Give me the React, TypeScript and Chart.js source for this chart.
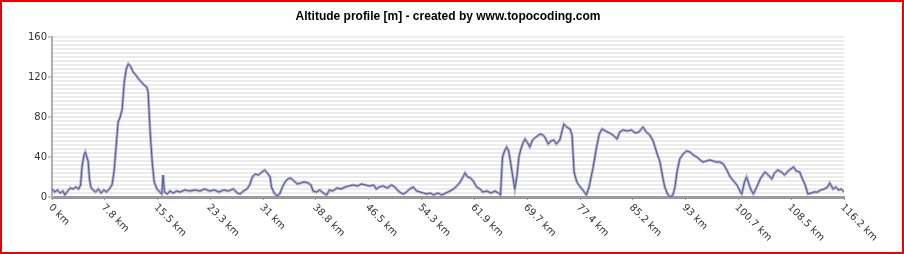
import React, { useEffect, useRef } from "react";
import { Chart, registerables } from "chart.js";

Chart.register(...registerables);

const distKm: number[] = [
  0.0, 0.4, 0.8, 1.2, 1.6, 1.9, 2.3, 2.7, 3.1, 3.5, 3.9, 4.2, 4.4, 4.7, 4.9, 5.1, 5.3, 5.5, 5.7, 6.0,
  6.4, 6.8, 7.2, 7.6, 8.0, 8.4, 8.8, 9.1, 9.4, 9.7, 10.0, 10.3, 10.6, 10.9, 11.2, 11.5, 11.9, 12.3, 12.7, 13.1,
  13.5, 13.9, 14.1, 14.4, 14.7, 15.0, 15.4, 15.8, 16.1, 16.3, 16.5, 16.9, 17.3, 17.8, 18.3, 18.8, 19.5, 20.2, 21.0, 21.7,
  22.4, 23.1, 23.8, 24.5, 25.2, 25.9, 26.6, 27.2, 27.6, 28.1, 28.6, 29.0, 29.4, 29.8, 30.3, 30.8, 31.2, 31.6, 32.0, 32.2,
  32.6, 33.0, 33.4, 33.8, 34.2, 34.6, 35.0, 35.5, 36.0, 36.5, 37.0, 37.6, 38.0, 38.3, 38.8, 39.3, 39.8, 40.3, 40.7, 41.2,
  41.8, 42.4, 43.0, 43.6, 44.2, 44.8, 45.4, 46.0, 46.6, 47.2, 47.6, 48.0, 48.6, 49.2, 49.8, 50.3, 50.8, 51.2, 51.6, 52.0,
  52.5, 53.0, 53.5, 54.0, 54.5, 55.0, 55.5, 56.0, 56.6, 57.2, 57.8, 58.4, 58.9, 59.4, 59.9, 60.3, 60.6, 61.0, 61.4, 61.8,
  62.3, 62.8, 63.2, 63.8, 64.4, 65.0, 65.5, 65.8, 66.1, 66.4, 66.7, 67.0, 67.2, 67.5, 67.9, 68.2, 68.5, 68.8, 69.1, 69.4,
  69.8, 70.1, 70.5, 71.0, 71.6, 72.0, 72.3, 72.8, 73.2, 73.6, 74.0, 74.5, 74.8, 75.1, 75.5, 76.0, 76.3, 76.6, 77.0, 77.5,
  78.0, 78.4, 78.8, 79.4, 79.9, 80.3, 80.7, 81.2, 81.8, 82.3, 82.9, 83.3, 83.8, 84.4, 85.0, 85.6, 86.1, 86.7, 87.2, 87.7,
  88.2, 88.7, 89.2, 89.6, 89.9, 90.3, 90.7, 91.1, 91.4, 91.7, 92.1, 92.6, 93.1, 93.6, 94.1, 94.6, 95.1, 95.5, 96.0, 96.5,
  97.0, 97.5, 98.0, 98.5, 99.0, 99.5, 100.0, 100.5, 101.0, 101.2, 101.6, 101.9, 102.2, 102.5, 102.9, 103.4, 103.9, 104.3, 104.6, 105.1,
  105.6, 106.0, 106.5, 107.0, 107.5, 108.0, 108.4, 108.8, 109.2, 109.7, 110.1, 110.5, 110.9, 111.4, 111.8, 112.3, 112.8, 113.3, 113.8, 114.1,
  114.6, 115.0, 115.4, 115.8, 116.2,
];

const altitudeM: number[] = [
  8, 5, 7, 4, 6, 2, 6, 9, 8, 10, 8, 12, 30, 42, 45, 40, 36, 18, 10, 7,
  5, 8, 4, 7, 5, 8, 12, 25, 50, 75, 80, 88, 115, 128, 133, 131, 125, 122, 118, 115,
  112, 110, 105, 65, 35, 15, 8, 5, 3, 22, 5, 3, 6, 4, 6, 5, 7, 6, 7, 6,
  8, 6, 7, 5, 7, 6, 8, 4, 3, 6, 8, 12, 20, 23, 22, 25, 27, 24, 20, 10,
  4, 1, 3, 10, 15, 18, 19, 16, 13, 14, 15, 14, 12, 6, 5, 7, 4, 2, 7, 6,
  9, 8, 10, 11, 12, 11, 13, 12, 11, 12, 8, 10, 11, 9, 12, 10, 6, 4, 3, 5,
  8, 10, 6, 5, 4, 3, 4, 2, 4, 2, 4, 6, 8, 11, 15, 20, 24, 20, 19, 16,
  10, 8, 5, 6, 4, 6, 4, 2, 40, 46, 50, 46, 38, 25, 8, 20, 40, 48, 54, 58,
  54, 50, 57, 60, 63, 62, 60, 53, 56, 57, 53, 57, 65, 73, 70, 68, 62, 25, 15, 10,
  6, 2, 10, 30, 50, 63, 68, 66, 64, 62, 58, 65, 67, 66, 67, 64, 65, 70, 65, 62,
  56, 45, 35, 20, 10, 3, 0, 2, 10, 25, 38, 43, 46, 45, 42, 40, 37, 35, 36, 37,
  36, 35, 35, 33, 27, 20, 16, 12, 5, 3, 15, 20, 14, 8, 3, 10, 18, 22, 25, 22,
  18, 24, 27, 25, 22, 26, 28, 30, 26, 25, 18, 12, 3, 4, 5, 5, 7, 8, 10, 14,
  8, 10, 7, 8, 5,
];

const xTickValues: number[] = [0, 7.75, 15.49, 23.24, 30.99, 38.73, 46.48, 54.23, 61.97, 69.72, 77.47, 85.21, 92.96, 100.71, 108.45, 116.2];
const xTickLabels: string[] = [
  "0 km", "7.8 km", "15.5 km", "23.3 km", "31 km", "38.8 km", "46.5 km", "54.3 km",
  "61.9 km", "69.7 km", "77.4 km", "85.2 km", "93 km", "100.7 km", "108.5 km", "116.2 km",
];
const yLabelValues: number[] = [0, 40, 80, 120, 160];
const chartTitle = "Altitude profile [m] - created by www.topocoding.com";

const FONT = '"DejaVu Sans", Verdana, sans-serif';

const textPlugin = {
  id: "texts",
  afterDraw(chart: any) {
    const xs = chart.scales.x;
    const ctx = chart.ctx;
    ctx.save();
    ctx.font = `bold 12px "Liberation Sans", Arial, sans-serif`;
    ctx.fillStyle = "#000000";
    ctx.textAlign = "center";
    ctx.textBaseline = "middle";
    ctx.fillText(chartTitle, 446, 14.5);
    ctx.font = `10px ${FONT}`;
    ctx.fillStyle = "#333333";
    ctx.textAlign = "left";
    ctx.textBaseline = "middle";
    xTickValues.forEach((v, i) => {
      const px = xs.getPixelForValue(v);
      ctx.save();
      ctx.translate(px - 2, xs.top + 9);
      ctx.rotate(Math.PI / 4);
      ctx.fillText(xTickLabels[i], 0, 0);
      ctx.restore();
    });
    ctx.restore();
  },
};

export default function App() {
  const canvasRef = useRef<HTMLCanvasElement | null>(null);

  useEffect(() => {
    if (!canvasRef.current) return;
    const points = distKm.map((d, i) => ({ x: d, y: altitudeM[i] }));
    const chart = new Chart(canvasRef.current, {
      type: "line",
      data: {
        datasets: [
          {
            data: points,
            borderColor: "#58588a",
            borderWidth: 1,
            pointRadius: 0,
            tension: 0,
            fill: false,
          },
          {
            data: points,
            borderColor: "rgba(135,135,185,0.65)",
            borderWidth: 2.8,
            pointRadius: 0,
            tension: 0,
            fill: false,
          },
        ],
      },
      options: {
        animation: false,
        responsive: false,
        maintainAspectRatio: false,
        layout: { padding: { left: 0, right: 58, top: 35, bottom: 0 } },
        plugins: {
          legend: { display: false },
          tooltip: { enabled: false },
          title: { display: false },
        },
        scales: {
          x: {
            type: "linear",
            min: 0,
            max: 116.2,
            afterBuildTicks: (scale: any) => {
              scale.ticks = xTickValues.map((v) => ({ value: v }));
            },
            afterFit: (scale: any) => {
              scale.height = 55;
            },
            ticks: { display: false },
            grid: { drawOnChartArea: false, color: "#9a9a9a", tickLength: 3 },
            border: { color: "#9a9a9a", width: 3 },
          },
          y: {
            min: 0,
            max: 160,
            afterFit: (scale: any) => {
              scale.width = 50;
            },
            ticks: {
              stepSize: 4,
              autoSkip: false,
              color: "#333333",
              font: { family: FONT, size: 10 },
              padding: 1,
              callback: (v: any) => (yLabelValues.includes(Number(v)) ? String(v) : ""),
            },
            grid: {
              color: (c: any) => (c.tick && c.tick.value === 0 ? "rgba(0,0,0,0)" : "#ececec"),
              lineWidth: 2,
              tickLength: 4,
              tickWidth: 1,
              tickColor: (c: any) =>
                c.tick && yLabelValues.includes(c.tick.value) ? "#9a9a9a" : "rgba(0,0,0,0)",
            },
            border: { color: "#b0b0b0", width: 2 },
          },
        },
      },
      plugins: [textPlugin],
    });
    return () => chart.destroy();
  }, []);

  return (
    <div
      style={{
        position: "fixed",
        left: 0,
        top: 0,
        width: 904,
        height: 254,
        border: "2px solid #ee0000",
        boxSizing: "border-box",
        background: "#ffffff",
      }}
    >
      <canvas ref={canvasRef} width={900} height={250} style={{ display: "block", width: 900, height: 250 }} />
    </div>
  );
}
